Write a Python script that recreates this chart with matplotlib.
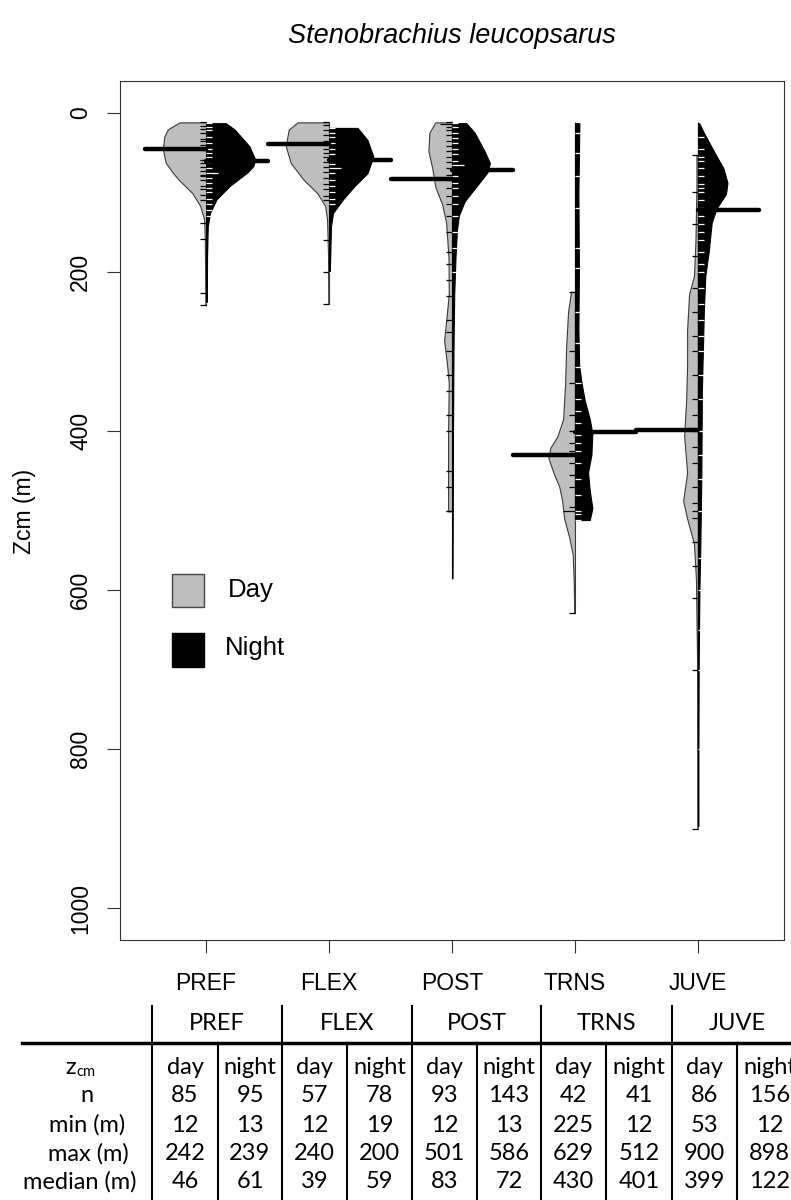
import matplotlib.pyplot as plt
import numpy as np
from matplotlib.lines import Line2D
from matplotlib.patches import Rectangle

plt.rcParams['font.family'] = ['Liberation Sans', 'DejaVu Sans']

W, H = 791, 1200  # output size in px

groups = ["PREF", "FLEX", "POST", "TRNS", "JUVE"]

# ===== table values =====
n_day = [85, 57, 93, 42, 86]
n_night = [95, 78, 143, 41, 156]
min_day = [12, 12, 12, 225, 53]
min_night = [13, 19, 13, 12, 12]
max_day = [242, 240, 501, 629, 900]
max_night = [239, 200, 586, 512, 898]
med_day = [46, 39, 83, 430, 399]
med_night = [61, 59, 72, 401, 122]

# ===== bean outlines =====
# depth (m) and relative half-width (1 = widest bean)
pref_day_z = [12, 21, 30, 46, 63, 75, 84, 101, 117, 134, 160, 200, 242]
pref_day_w = [0.54, 0.78, 0.85, 0.88, 0.82, 0.68, 0.56, 0.28, 0.12, 0.04, 0.025, 0.02, 0.015]
pref_night_z = [13, 21, 42, 59, 67, 75, 92, 109, 126, 143, 180, 239]
pref_night_w = [0.40, 0.58, 0.88, 1.0, 0.96, 0.84, 0.48, 0.21, 0.08, 0.034, 0.02, 0.015]

flex_day_z = [12, 21, 42, 63, 84, 101, 117, 134, 180, 240]
flex_day_w = [0.64, 0.82, 0.88, 0.78, 0.52, 0.24, 0.08, 0.04, 0.02, 0.015]
flex_night_z = [19, 34, 55, 76, 92, 109, 126, 143, 200]
flex_night_w = [0.58, 0.78, 0.90, 0.78, 0.52, 0.28, 0.08, 0.04, 0.015]

post_day_z = [12, 25, 48, 70, 93, 115, 138, 183, 228, 250, 286, 317, 340, 407, 497, 501]
post_day_w = [0.34, 0.46, 0.48, 0.40, 0.34, 0.20, 0.12, 0.07, 0.066, 0.10, 0.16, 0.10, 0.066, 0.08, 0.08, 0.07]
post_night_z = [13, 25, 48, 63, 75, 93, 111, 129, 147, 183, 228, 300, 400, 500, 586]
post_night_w = [0.29, 0.46, 0.66, 0.77, 0.72, 0.49, 0.26, 0.14, 0.10, 0.07, 0.045, 0.03, 0.02, 0.015, 0.01]

trns_day_z = [225, 250, 295, 340, 385, 407, 421, 434, 452, 470, 488, 510, 533, 555, 590, 629]
trns_day_w = [0.08, 0.14, 0.18, 0.20, 0.24, 0.36, 0.50, 0.54, 0.44, 0.32, 0.26, 0.22, 0.12, 0.046, 0.025, 0.015]
trns_night_z = [12, 100, 200, 272, 317, 340, 362, 385, 403, 430, 452, 475, 497, 512]
trns_night_w = [0.09, 0.07, 0.08, 0.07, 0.085, 0.134, 0.20, 0.30, 0.354, 0.334, 0.266, 0.30, 0.354, 0.30]

juve_day_z = [53, 93, 160, 205, 228, 273, 317, 362, 407, 452, 488, 510, 542, 587, 700, 900]
juve_day_w = [0.03, 0.03, 0.05, 0.08, 0.18, 0.22, 0.22, 0.24, 0.28, 0.22, 0.30, 0.22, 0.08, 0.04, 0.015, 0.01]
juve_night_z = [12, 25, 48, 70, 88, 102, 120, 138, 174, 205, 250, 350, 450, 540, 600, 700, 800, 898]
juve_night_w = [0.02, 0.12, 0.32, 0.52, 0.60, 0.57, 0.38, 0.28, 0.22, 0.15, 0.12, 0.08, 0.07, 0.05, 0.03, 0.015, 0.01, 0.01]

# ===== single observations (bean lines), depths in m =====
pref_day_obs = [12, 17, 20, 25, 33, 36, 40, 44, 47, 59, 63, 68, 73, 78, 80, 84, 92, 96, 103, 109, 138, 159, 226, 242]
pref_night_obs = [13, 18, 22, 30, 38, 45, 50, 55, 62, 70, 76, 76, 82, 88, 95, 100, 108, 115, 122, 130, 239]
flex_day_obs = [12, 15, 22, 28, 35, 40, 45, 50, 55, 62, 68, 75, 82, 90, 96, 105, 110, 160, 200, 240]
flex_night_obs = [19, 25, 30, 38, 45, 52, 58, 64, 70, 70, 76, 84, 92, 100, 108, 115, 200]
post_day_obs = [12, 14, 14, 18, 22, 28, 35, 42, 48, 55, 62, 70, 78, 85, 95, 105, 115, 130, 150, 175,
                190, 210, 230, 260, 275, 300, 330, 350, 380, 400, 450, 470, 500, 501]
post_night_obs = [13, 18, 25, 32, 38, 45, 52, 60, 65, 65, 72, 80, 88, 95, 105, 115, 130, 150, 170, 200, 586]
trns_day_obs = [225, 300, 340, 380, 400, 415, 425, 430, 430, 440, 455, 470, 495, 500, 500, 629]
trns_night_obs = [12, 25, 50, 80, 120, 170, 195, 250, 290, 320, 340, 360, 375, 390, 400, 405, 415,
                  425, 440, 460, 480, 500, 505, 512]
juve_day_obs = [53, 100, 140, 180, 220, 250, 280, 300, 330, 360, 380, 400, 420, 440, 470, 490, 500,
                510, 540, 570, 610, 700, 900]
juve_night_obs = [12, 30, 45, 55, 60, 70, 80, 90, 95, 100, 110, 120, 130, 140, 150, 160, 175, 190, 200,
                  220, 240, 260, 280, 300, 330, 360, 400, 430, 460, 500, 560, 600, 650, 700, 800, 898]

day_z = [pref_day_z, flex_day_z, post_day_z, trns_day_z, juve_day_z]
day_w = [pref_day_w, flex_day_w, post_day_w, trns_day_w, juve_day_w]
night_z = [pref_night_z, flex_night_z, post_night_z, trns_night_z, juve_night_z]
night_w = [pref_night_w, flex_night_w, post_night_w, trns_night_w, juve_night_w]
day_obs = [pref_day_obs, flex_day_obs, post_day_obs, trns_day_obs, juve_day_obs]
night_obs = [pref_night_obs, flex_night_obs, post_night_obs, trns_night_obs, juve_night_obs]

GREY = "#bebebe"
MAXW = 0.4      # widest half-bean in x units
TICK = 0.05     # length of one bean line
MEDLEN = 0.5    # length of the median line


def fx(x):
    return x / W


def fy(y):
    return 1 - y / H


fig = plt.figure(figsize=(W / 100, H / 100), dpi=100)
ax = fig.add_axes([fx(120), fy(940), (784 - 120) / W, (940 - 81) / H])

for i in range(len(groups)):
    c = i + 1
    zd = np.array(day_z[i])
    wd = np.array(day_w[i]) * MAXW
    zn = np.array(night_z[i])
    wn = np.array(night_w[i]) * MAXW

    ax.fill_betweenx(zd, c - wd, c, facecolor=GREY, edgecolor="#3a3a3a", linewidth=0.8, zorder=2)
    ax.fill_betweenx(zn, c, c + wn, facecolor="black", edgecolor="black", linewidth=0.8, zorder=2)

    # bean lines, coincident values give longer lines
    vals, cnt = np.unique(day_obs[i], return_counts=True)
    ax.hlines(vals, c - cnt * TICK, c, colors="black", linewidth=0.9, zorder=3)
    vals, cnt = np.unique(night_obs[i], return_counts=True)
    ax.hlines(vals, c, c + cnt * TICK, colors="white", linewidth=0.9, zorder=3)

    # medians
    ax.plot([c - MEDLEN, c], [med_day[i], med_day[i]], color="black", linewidth=3.2,
            solid_capstyle="round", zorder=4)
    ax.plot([c, c + MEDLEN], [med_night[i], med_night[i]], color="black", linewidth=3.2,
            solid_capstyle="round", zorder=4)

ax.set_xlim(0.3, 5.7)
ax.set_ylim(1040, -40)
ax.set_xticks(range(1, len(groups) + 1))
ax.set_xticklabels(groups)
ax.set_yticks([0, 200, 400, 600, 800, 1000])
ax.set_yticklabels(["0", "200", "400", "600", "800", "1000"])
ax.tick_params(axis="both", length=9.4, width=0.8, labelsize=16.5, color="#333333")
ax.tick_params(axis="x", pad=14)
ax.tick_params(axis="y", pad=19)
plt.setp(ax.get_yticklabels(), rotation=90, ha="center", va="center")
for s in ax.spines.values():
    s.set_linewidth(0.8)
    s.set_color("#333333")

fig.text(fx(24), fy(511), "Zcm (m)", rotation=90, ha="center", va="center", fontsize=16.5)
fig.text(fx(452), fy(36), "Stenobrachius leucopsarus", style="italic", ha="center",
         va="center", fontsize=19.5)

# ===== legend =====
fig.add_artist(Rectangle((fx(172), fy(607)), 32 / W, 33 / H, transform=fig.transFigure,
                         facecolor=GREY, edgecolor="#444444", linewidth=1))
fig.add_artist(Rectangle((fx(172), fy(667)), 32 / W, 34 / H, transform=fig.transFigure,
                         facecolor="black", edgecolor="black", linewidth=1))
fig.text(fx(228), fy(590), "Day", ha="left", va="center", fontsize=18.5)
fig.text(fx(225), fy(648), "Night", ha="left", va="center", fontsize=18.5)

# ===== table under the plot =====
tfont = ["Lato", "DejaVu Sans"]
tsize = 17
group_edges = [152, 282, 412, 541, 672]
sub_edges = [218, 347, 477, 606, 737]
col_right = 802
header_y = 1023
line_y = 1043
row_y = [1067, 1096, 1125, 1154, 1182]

for x in group_edges:
    fig.add_artist(Line2D([fx(x), fx(x)], [fy(1006), fy(H)], transform=fig.transFigure,
                          color="black", linewidth=1.5))
for x in sub_edges:
    fig.add_artist(Line2D([fx(x), fx(x)], [fy(line_y), fy(H)], transform=fig.transFigure,
                          color="black", linewidth=1.5))
fig.add_artist(Line2D([fx(22), fx(W)], [fy(line_y), fy(line_y)], transform=fig.transFigure,
                      color="black", linewidth=2.5))

edges = group_edges + [col_right]
for i, g in enumerate(groups):
    left, right = edges[i], edges[i + 1]
    mid = sub_edges[i]
    fig.text(fx((left + right) / 2), fy(header_y), g, ha="center", va="center",
             family=tfont, fontsize=tsize)
    day_col = ["day", str(n_day[i]), str(min_day[i]), str(max_day[i]), str(med_day[i])]
    night_col = ["night", str(n_night[i]), str(min_night[i]), str(max_night[i]), str(med_night[i])]
    for r, y in enumerate(row_y):
        fig.text(fx((left + mid) / 2), fy(y), day_col[r], ha="center", va="center",
                 family=tfont, fontsize=tsize)
        fig.text(fx((mid + right) / 2), fy(y), night_col[r], ha="center", va="center",
                 family=tfont, fontsize=tsize)

row_labels = ["n", "min (m)", "max (m)", "median (m)"]
row_label_x = [87, 87, 88, 80]
fig.text(fx(76), fy(row_y[0]), "z", ha="right", va="center", family=tfont, fontsize=tsize)
fig.text(fx(76), fy(row_y[0] + 5), "cm", ha="left", va="center", family=tfont, fontsize=tsize * 0.62)
for lab, x, y in zip(row_labels, row_label_x, row_y[1:]):
    fig.text(fx(x), fy(y), lab, ha="center", va="center", family=tfont, fontsize=tsize)

fig.savefig("out.png", dpi=100)
